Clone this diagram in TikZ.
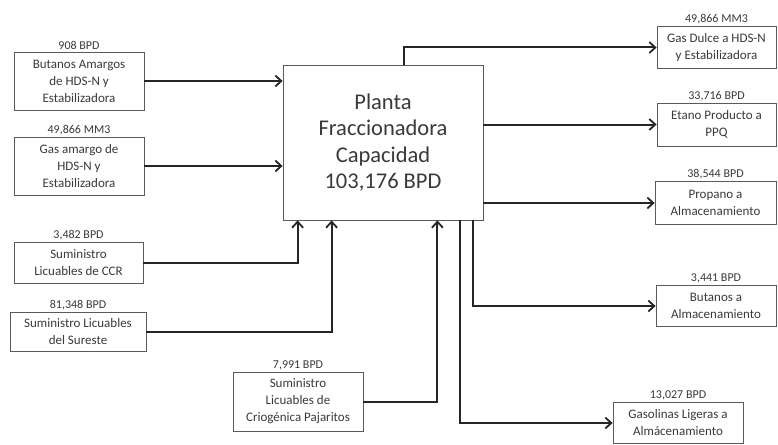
\documentclass[tikz,border=0pt]{standalone}
\usepackage{fontspec}
\setmainfont{Carlito}
\usetikzlibrary{arrows.meta}
\definecolor{txt}{HTML}{3A3A3A}
\definecolor{ln}{HTML}{262626}
\definecolor{bd}{HTML}{5A5A5A}
\begin{document}
\begin{tikzpicture}[x=1pt,y=-1pt,
  box/.style={draw=bd,line width=0.8pt,rectangle,align=center,text=txt,inner sep=1pt,
    font=\fontsize{13}{17}\selectfont},
  lab/.style={anchor=south,text=txt,inner sep=1.5pt,font=\fontsize{12}{13}\selectfont},
  arr/.style={draw=ln,line width=2pt,-{Straight Barb[length=6pt,width=11pt,line width=1.8pt]}},
  ln/.style={draw=ln,line width=2pt}]
\useasboundingbox (0,0) rectangle (778,444);
\fill[white] (0,0) rectangle (778,444);
% main
\node[box,minimum width=200pt,minimum height=155pt,font=\fontsize{22.5}{26.5}\selectfont] (main) at (383,142.5)
  {Planta\\Fraccionadora\\Capacidad\\103,176 BPD};
% left inputs
\node[box,minimum width=130pt,minimum height=58pt] (b1) at (79,81) {Butanos Amargos\\de HDS-N y\\Estabilizadora};
\node[lab] (l1) at (b1.north) {908 BPD};
\node[box,minimum width=130pt,minimum height=58pt] (b2) at (79,166) {Gas amargo de\\HDS-N y\\Estabilizadora};
\node[lab] (l2) at (b2.north) {49,866 MM3};
\node[box,minimum width=129pt,minimum height=41pt] (b3) at (78.5,263) {Suministro\\Licuables de CCR};
\node[lab] (l3) at (b3.north) {3,482 BPD};
\node[box,minimum width=136pt,minimum height=39pt] (b4) at (78,332) {Suministro Licuables\\del Sureste};
\node[lab] (l4) at (b4.north) {81,348 BPD};
\node[box,minimum width=130pt,minimum height=59pt] (b5) at (298,401.5) {Suministro\\Licuables de\\Criogénica Pajaritos};
\node[lab] (l5) at (b5.north) {7,991 BPD};
% right outputs
\node[box,minimum width=119pt,minimum height=42pt] (r1) at (716.5,47.5) {Gas Dulce a HDS-N\\y Estabilizadora};
\node[lab] (m1) at (r1.north) {49,866 MM3};
\node[box,minimum width=119pt,minimum height=43pt] (r2) at (716.5,124.5) {Etano Producto a\\PPQ};
\node[lab] (m2) at (r2.north) {33,716 BPD};
\node[box,minimum width=121pt,minimum height=43pt] (r3) at (715.5,203) {Propano a\\Almacenamiento};
\node[lab] (m3) at (r3.north) {38,544 BPD};
\node[box,minimum width=120pt,minimum height=41pt] (r4) at (716,306) {Butanos a\\Almacenamiento};
\node[lab] (m4) at (r4.north) {3,441 BPD};
\node[box,minimum width=130pt,minimum height=41pt] (r5) at (678,423) {Gasolinas Ligeras a\\Almácenamiento};
\node[lab] (m5) at (r5.north) {13,027 BPD};
% inputs
\draw[arr] (b1.east) -- (b1.east -| main.west);
\draw[arr] (b2.east) -- (b2.east -| main.west);
\draw[arr] (b3.east) -| ([xshift=15pt]main.south west);
\draw[arr] (b4.east) -| ([xshift=49pt]main.south west);
\draw[arr] (b5.east) -| ([xshift=-46pt]main.south east);
% outputs
\draw[arr] ([xshift=121pt]main.north west) |- (r1.west);
\draw[arr] (r2.west -| main.east) -- (r2.west);
\draw[arr] (r3.west -| main.east) -- (r3.west);
\draw[arr] ([xshift=-10pt]main.south east) |- (r4.west);
\draw[arr] ([xshift=-23pt]main.south east) |- (r5.west);
\end{tikzpicture}
\end{document}
